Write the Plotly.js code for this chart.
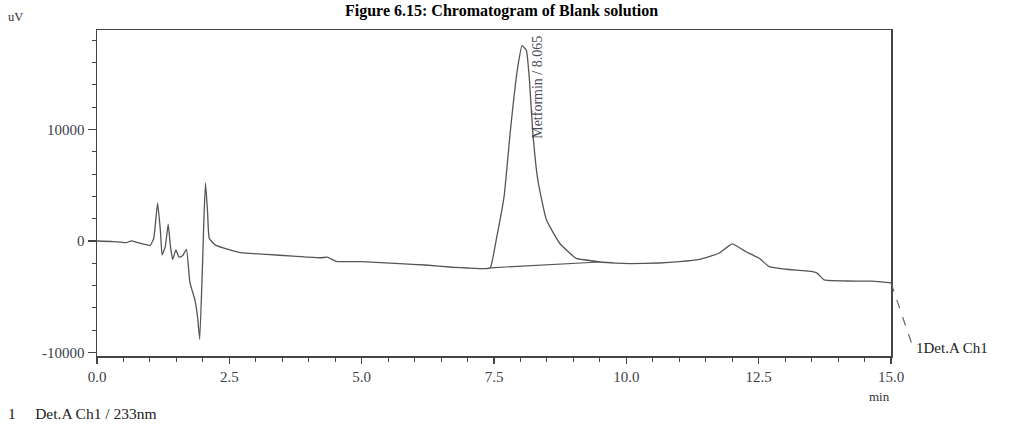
<!DOCTYPE html>
<html>
<head>
<meta charset="utf-8">
<script src="https://cdn.plot.ly/plotly-3.0.1.min.js"></script>
<style>html,body{margin:0;padding:0;background:#fff;}#chart{width:1010px;height:426px;}</style>
</head>
<body>
<div id="chart"></div>
<script>
// Retention time (min)
const timeMin = [0, 0.3, 0.55, 0.65, 0.75, 1.0, 1.07, 1.145, 1.2, 1.23, 1.29, 1.345, 1.39, 1.43, 1.49, 1.55, 1.62, 1.69, 1.755, 1.85, 1.9, 1.94, 1.99, 2.02, 2.05, 2.09, 2.12, 2.23, 2.51, 2.72, 3.2, 3.7, 4.23, 4.35, 4.52, 5.0, 5.72, 6.2, 6.72, 7.0, 7.35, 7.43, 7.55, 7.69, 7.81, 7.94, 8.03, 8.11, 8.17, 8.23, 8.33, 8.49, 8.74, 9.05, 9.24, 9.5, 9.8, 10.06, 10.62, 11.0, 11.38, 11.75, 12.0, 12.26, 12.51, 12.7, 13.01, 13.52, 13.61, 13.74, 14.15, 14.65, 15.0];
// Detector signal (uV)
const signalUV = [0, -50, -150, 20, -120, -400, 200, 3400, 800, -1250, -500, 1500, -600, -1650, -800, -1450, -1300, -750, -3700, -5300, -6800, -8800, -2600, 2000, 5200, 2500, 250, -350, -800, -1050, -1200, -1350, -1500, -1450, -1820, -1850, -2030, -2150, -2350, -2420, -2480, -2400, 300, 3970, 9900, 15300, 17500, 17100, 14400, 9900, 5400, 1900, -200, -1550, -1700, -1880, -1980, -2020, -1970, -1850, -1640, -1100, -250, -960, -1550, -2300, -2530, -2750, -2900, -3490, -3580, -3600, -3750];
// Integration baseline under the peak
const baseTime = [7.43, 9.5];
const baseUV = [-2400, -1880];
// Peak label
const peakName = "Metformin / 8.065";
const peakLabelTime = 8.32;
const peakLabelUV = 18550;
// Trace continuation to the channel label (beyond axis end)
const tailTime = [15.0, 15.41];
const tailUV = [-3750, -9450];

const xTickVals = [0, 2.5, 5, 7.5, 10, 12.5, 15];
const xTickText = ["0.0", "2.5", "5.0", "7.5", "10.0", "12.5", "15.0"];
const yTickVals = [-10000, 0, 10000];
const yTickText = ["-10000", "0", "10000"];

const xRange = [0, 15];
const yRange = [-10300, 18900];

const serif = "Liberation Serif, Times New Roman, serif";
const lblCol = "#3b3d4a";

const toPx = (t) => (t - xRange[0]) / (xRange[1] - xRange[0]);
const toPy = (v) => (v - yRange[0]) / (yRange[1] - yRange[0]);

const traces = [
  {x: timeMin, y: signalUV, type: "scatter", mode: "lines",
   line: {color: "#555", width: 1.3, shape: "spline", smoothing: 0.4}, hoverinfo: "x+y"},
  {x: baseTime, y: baseUV, type: "scatter", mode: "lines",
   line: {color: "#555", width: 1.2}, hoverinfo: "skip"}
];

const layout = {
  width: 1010, height: 426,
  margin: {l: 97, r: 119, t: 30, b: 70},
  paper_bgcolor: "#fff", plot_bgcolor: "#fff",
  showlegend: false,
  font: {family: serif, color: lblCol},
  xaxis: {
    range: xRange, tickvals: xTickVals, ticktext: xTickText,
    ticks: "outside", ticklen: 6, tickwidth: 1.2, tickcolor: "#444",
    showline: true, linecolor: "#444", linewidth: 1.5, mirror: true,
    showgrid: false, zeroline: false,
    tickfont: {family: serif, size: 15, color: lblCol},
    minor: {dtick: 0.5, tick0: 0, ticks: "outside", ticklen: 4, tickwidth: 1, tickcolor: "#444", showgrid: false}
  },
  yaxis: {
    range: yRange, tickvals: yTickVals, ticktext: yTickText,
    ticks: "outside", ticklen: 8, tickwidth: 1.2, tickcolor: "#444",
    showline: true, linecolor: "#444", linewidth: 1.5, mirror: true,
    showgrid: false, zeroline: false,
    tickfont: {family: serif, size: 15, color: lblCol},
    minor: {dtick: 2000, tick0: 0, ticks: "outside", ticklen: 4, tickwidth: 1, tickcolor: "#444", showgrid: false}
  },
  shapes: [
    {type: "line", xref: "paper", yref: "paper",
     x0: toPx(tailTime[0]), y0: toPy(tailUV[0]), x1: toPx(tailTime[1]), y1: toPy(tailUV[1]),
     line: {color: "#666", width: 1.2, dash: "dash"}}
  ],
  annotations: [
    {text: "<b>Figure 6.15: Chromatogram of Blank solution</b>", xref: "paper", yref: "paper",
     x: 0.51, y: 1.058, xanchor: "center", yanchor: "middle", showarrow: false,
     font: {family: serif, size: 16, color: "#000"}},
    {text: "uV", xref: "paper", yref: "paper", x: -0.114, y: 1.04, xanchor: "left", yanchor: "middle",
     showarrow: false, font: {family: serif, size: 12.5, color: "#333"}},
    {text: peakName, x: peakLabelTime, y: peakLabelUV, xref: "x", yref: "y", textangle: -90,
     xanchor: "center", yanchor: "top", showarrow: false,
     font: {family: serif, size: 14, color: "#4a4c5a"}},
    {text: "min", xref: "paper", yref: "paper", x: 0.986, y: -0.125, xanchor: "center", yanchor: "middle",
     showarrow: false, font: {family: serif, size: 13, color: "#333"}},
    {text: "1Det.A Ch1", xref: "paper", yref: "paper", x: toPx(tailTime[1]) + 0.002, y: toPy(tailUV[1]) - 0.006,
     xanchor: "left", yanchor: "middle", showarrow: false, font: {family: serif, size: 15, color: "#222"}},
    {text: "1&nbsp;&nbsp;&nbsp;&nbsp;&nbsp;Det.A Ch1 / 233nm", xref: "paper", yref: "paper", x: -0.114, y: -0.175,
     xanchor: "left", yanchor: "middle", showarrow: false, font: {family: serif, size: 15.5, color: "#222"}}
  ]
};

Plotly.newPlot("chart", traces, layout, {displayModeBar: false, staticPlot: true});
</script>
</body>
</html>
